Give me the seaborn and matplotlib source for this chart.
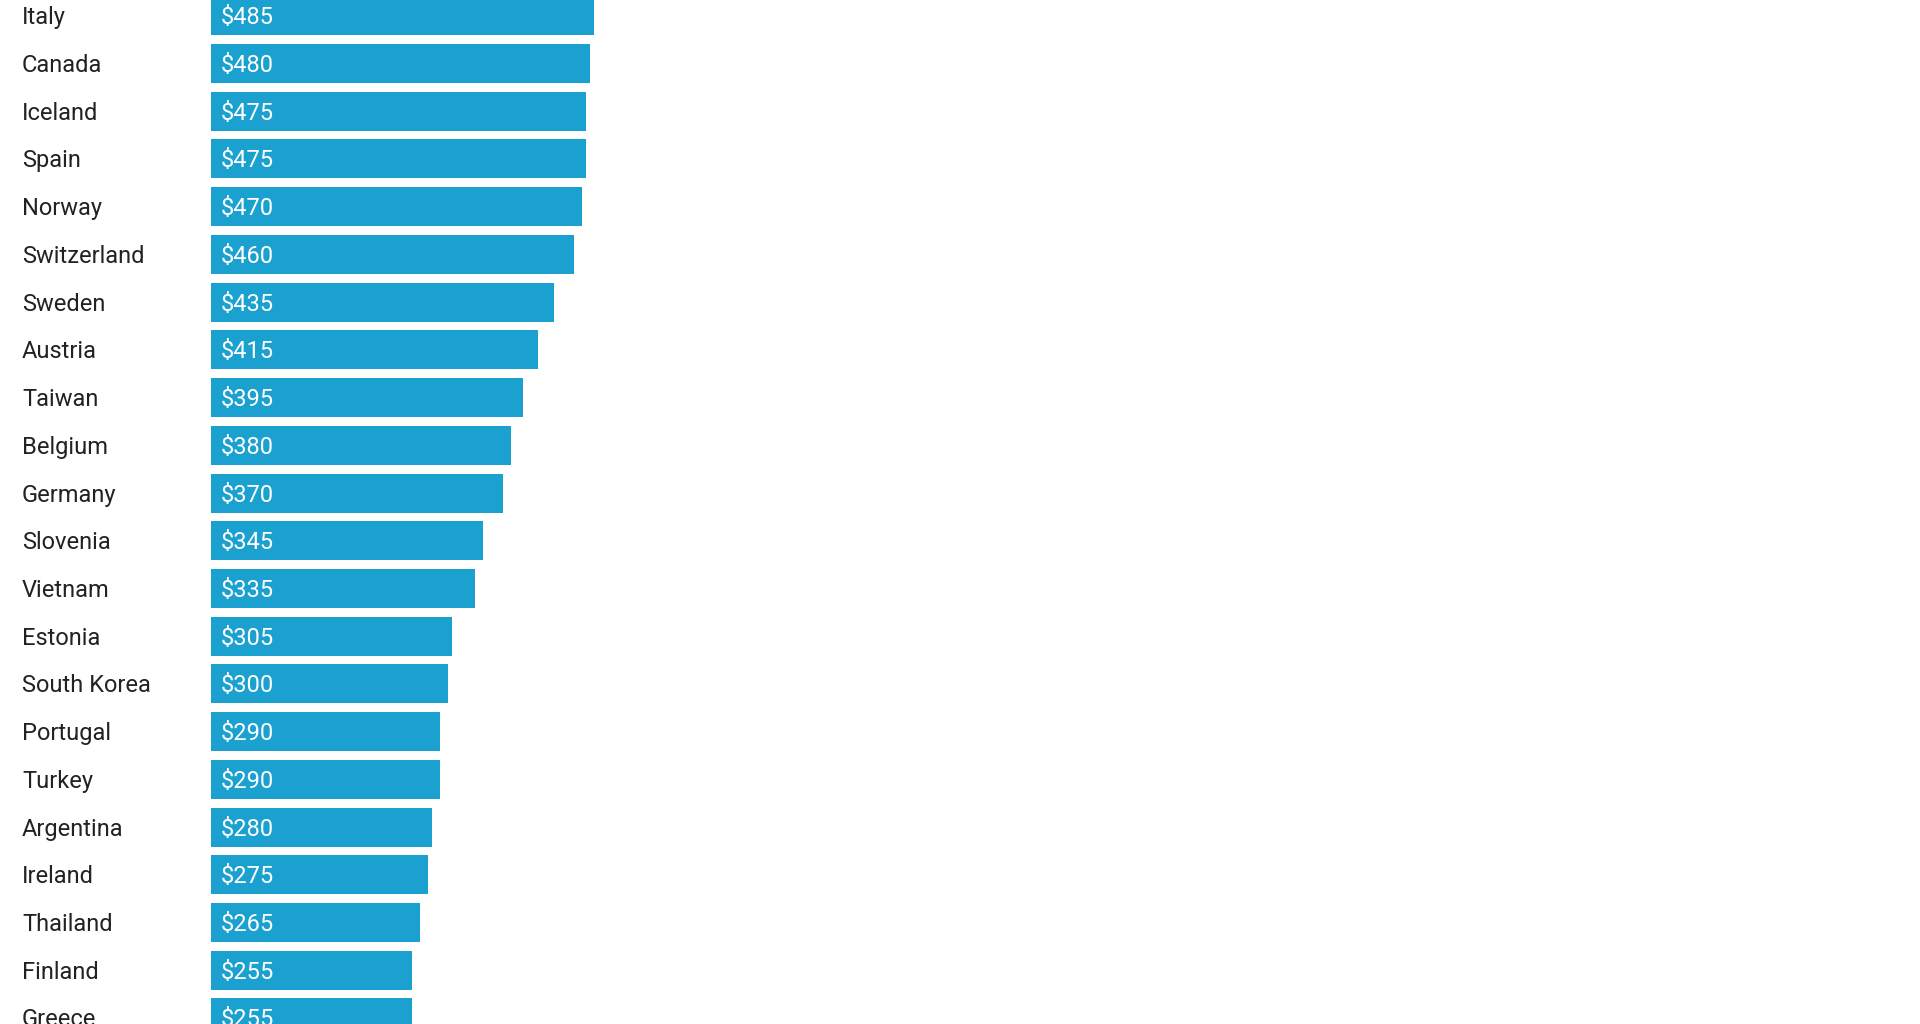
import matplotlib
matplotlib.use("Agg")
import matplotlib.pyplot as plt
import seaborn as sns
import pandas as pd

# Data
countries = ["Italy", "Canada", "Iceland", "Spain", "Norway", "Switzerland",
             "Sweden", "Austria", "Taiwan", "Belgium", "Germany", "Slovenia",
             "Vietnam", "Estonia", "South Korea", "Portugal", "Turkey",
             "Argentina", "Ireland", "Thailand", "Finland", "Greece"]
values = [485, 480, 475, 475, 470, 460, 435, 415, 395, 380, 370, 345,
          335, 305, 300, 290, 290, 280, 275, 265, 255, 255]

df = pd.DataFrame({"country": countries, "value": values})

sns.set_style("white")
plt.rcParams["font.family"] = ["Roboto", "DejaVu Sans"]

bar_color = "#1ba1cf"

fig = plt.figure(figsize=(19.2, 10.24), dpi=100)
ax = fig.add_axes([211 / 1920, 0, 1 - 211 / 1920, 1])

sns.barplot(data=df, x="value", y="country", color=bar_color,
            saturation=1, width=0.817, linewidth=0, ax=ax)

# crop like the reference (the chart is a slice of a longer list)
ax.set_xlim(0, (1920 - 211) / 0.789)
ax.set_ylim(21.127, -0.331)

# baseline sits half a cap height below the bar centre
for i, (c, v) in enumerate(zip(countries, values)):
    ax.annotate(f"${v}", xy=(0, i), xycoords="data",
                xytext=(10, -8.5), textcoords="offset pixels",
                fontsize=17, color="white", va="baseline", ha="left")
    ax.annotate(c, xy=(0, i), xycoords=("axes fraction", "data"),
                xytext=(22 - 211, -8.5), textcoords="offset pixels",
                fontsize=17, color="#222222", va="baseline", ha="left",
                annotation_clip=False)

ax.set_yticks([])
ax.set_xticks([])
ax.set_xlabel("")
ax.set_ylabel("")
sns.despine(ax=ax, left=True, bottom=True)

fig.savefig("out.png", dpi=100, facecolor="white")
